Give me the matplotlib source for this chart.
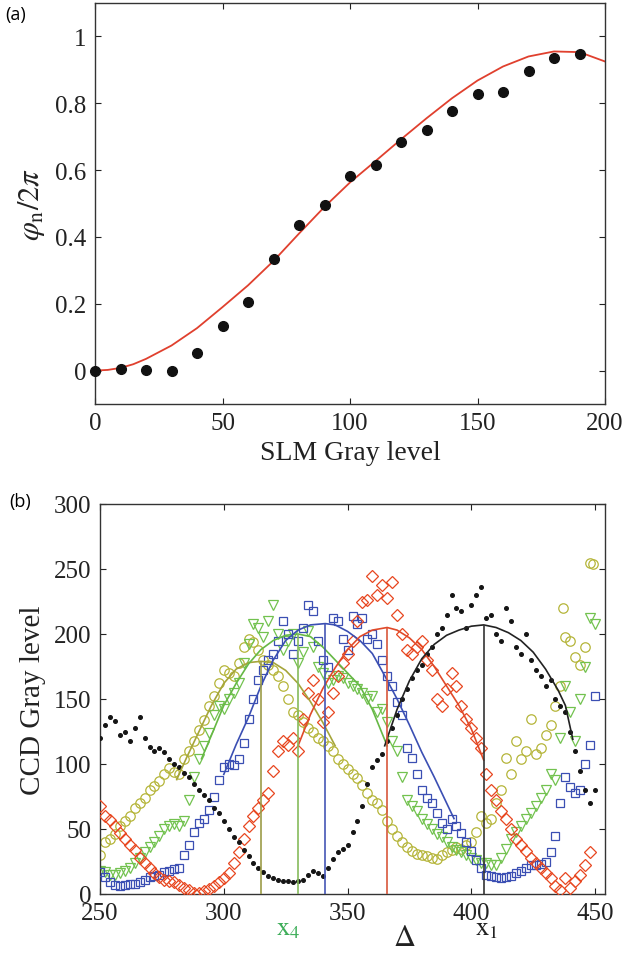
import numpy as np
import matplotlib
matplotlib.use("Agg")
import matplotlib.pyplot as plt

plt.rcParams['font.family'] = ['Liberation Serif', 'DejaVu Serif']
plt.rcParams['mathtext.fontset'] = 'stix'

# ---------------- Panel (a) data ----------------
a_gray = [0, 10, 20, 30, 40, 50, 60, 70, 80, 90, 100, 110, 120, 130, 140, 150, 160, 170, 180, 190]
a_phase = [0.0, 0.006, 0.002, 0.0, 0.053, 0.133, 0.206, 0.333, 0.435, 0.495, 0.583, 0.615,
           0.683, 0.721, 0.778, 0.828, 0.834, 0.898, 0.936, 0.946]
a_fit_x = [0, 5, 10, 15, 20, 30, 40, 50, 60, 70, 80, 90, 100, 110, 120, 130, 140, 150, 160, 170, 180, 190, 200]
a_fit_y = [0.0, 0.002, 0.008, 0.019, 0.035, 0.075, 0.127, 0.19, 0.255, 0.328, 0.41, 0.49, 0.563, 0.627,
           0.692, 0.755, 0.815, 0.868, 0.91, 0.94, 0.955, 0.953, 0.925]

# ---------------- Panel (b) data (x from 250, step 2) ----------------
b_black = [120, 130, 136, 133, 122, 125, 118, 128, 136, 120, 113, 110, 112, 109, 104, 100, 98, 93,
           90, 85, 80, 76, 72, 66, 62, 56, 50, 44, 40, 34, 29, 24, 20, 17, 14, 12, 11, 10, 10, 9,
           10, 11, 15, 18, 16, 14, 20, 27, 32, 35, 38, 48, 56, 68, 85, 98, 103, 108, 118, 128, 138,
           150, 158, 166, 172, 176, 185, 190, 200, 205, 215, 230, 220, 218, 205, 222, 230, 236, 212,
           215, 200, 195, 220, 210, 190, 185, 200, 180, 172, 168, 160, 165, 150, 145, 140, 125, 110,
           95, 80, 70, 80]
b_red = [68, 60, 57, 52, 47, 42, 38, 34, 28, 24, 20, 16, 13, 11, 10, 9, 7, 5, 3, 1, 1, 2, 4, 6, 9,
         12, 16, 24, 32, 42, 52, 60, 66, 72, 78, 95, 110, 118, 115, 120, 110, 135, 155, 165, 150, 132,
         140, 155, 168, 178, 185, 195, 210, 225, 226, 245, 230, 238, 228, 240, 215, 200, 188, 185, 190,
         195, 180, 172, 150, 145, 158, 170, 160, 145, 135, 128, 120, 112, 92, 80, 72, 64, 58, 50, 42,
         38, 33, 28, 24, 20, 16, 12, 6, 3, 12, 5, 10, 15, 22, 32]
b_blue = [17, 13, 9, 7, 6, 7, 8, 8, 9, 11, 13, 14, 15, 17, 18, 19, 20, 30, 38, 48, 55, 58, 65, 75, 88,
          98, 100, 99, 104, 116, 135, 150, 165, 172, 180, 185, 195, 210, 200, 185, 195, 205, 222, 218,
          195, 180, 175, 212, 210, 196, 188, 214, 208, 212, 196, 200, 192, 180, 168, 160, 148, 138, 112,
          105, 92, 80, 74, 70, 62, 55, 50, 58, 52, 47, 40, 33, 26, 20, 15, 14, 13, 12, 13, 14, 16, 18,
          20, 22, 22, 23, 25, 32, 45, 70, 90, 82, 78, 80, 100, 115, 152]
b_green = [18, 17, 15, 15, 16, 18, 20, 24, 28, 32, 36, 40, 45, 50, 52, 54, 52, 56, 72, 90, 104, 114,
           124, 138, 145, 142, 150, 155, 162, 178, 192, 208, 205, 198, 210, 222, 200, 188, 195, 200,
           178, 186, 202, 190, 175, 170, 162, 165, 168, 166, 162, 160, 158, 155, 150, 152, 140, 142,
           132, 118, 110, 90, 72, 68, 64, 58, 54, 50, 46, 44, 40, 36, 34, 32, 30, 28, 26, 24, 24, 22,
           22, 28, 35, 42, 48, 52, 58, 62, 68, 74, 80, 92, 88, 120, 160, 140, 118, 150, 175, 212, 208]
b_olive = [30, 40, 42, 46, 52, 56, 60, 66, 70, 74, 80, 83, 87, 92, 97, 94, 92, 104, 110, 118, 126,
           134, 145, 152, 162, 172, 170, 168, 178, 190, 196, 194, 188, 180, 176, 172, 168, 160, 150,
           140, 138, 132, 128, 125, 120, 118, 114, 110, 104, 100, 96, 92, 89, 84, 78, 72, 70, 65, 56,
           50, 45, 40, 36, 33, 31, 30, 29, 28, 27, 30, 32, 34, 36, 35, 38, 40, 48, 60, 55, 58, 70, 80,
           105, 92, 118, 104, 110, 135, 108, 112, 122, 130, 145, 160, 198, 195, 182, 176, 190, 255]
b_olive_extra_x = [437, 449]
b_olive_extra_y = [220, 254]

# fitted curves
fit_olive_x = [281, 285, 290, 295, 300, 305, 310, 315, 320, 325, 330, 335, 340, 345]
fit_olive_y = [88, 105, 125, 145, 162, 173, 178, 179, 178, 172, 162, 148, 132, 114]
fit_green_x = [291, 295, 300, 305, 310, 315, 320, 325, 330, 335, 340, 345, 350, 355, 360, 366]
fit_green_y = [104, 122, 145, 162, 177, 188, 195, 199, 200, 198, 190, 180, 170, 160, 142, 114]
fit_blue_x = [300, 305, 310, 315, 320, 325, 330, 335, 341, 345, 350, 355, 360, 365, 370, 375, 380, 385, 390, 393]
fit_blue_y = [92, 115, 136, 160, 180, 195, 203, 207, 208, 207, 202, 195, 185, 168, 150, 130, 109, 90, 70, 58]
fit_red_x = [330, 335, 340, 345, 350, 355, 360, 366, 370, 375, 380, 385, 390, 395, 400, 405]
fit_red_y = [114, 138, 158, 174, 188, 198, 203, 205, 203, 197, 188, 175, 160, 145, 127, 103]
fit_black_x = [365, 370, 375, 380, 385, 390, 395, 400, 405, 410, 415, 420, 425, 430, 435, 438, 441]
fit_black_y = [114, 142, 164, 181, 192, 199, 203, 206, 207, 205, 201, 195, 186, 173, 157, 145, 119]

# centre positions (vertical lines) and their heights
peak_x = [315, 330, 341, 366, 405]
peak_y = [179, 200, 208, 205, 207]

C_OLIVE = '#b5b53a'
C_GREEN = '#72c24f'
C_BLUE = '#3b4fb3'
C_RED = '#e8461f'
C_BLACK = '#151515'
peak_colors = ['#9c9c48', '#86bb5c', '#4656b5', '#d8573c', '#333333']

fig = plt.figure(figsize=(6.41, 9.54), dpi=100)

# ---------------- Panel (a) ----------------
ax1 = fig.add_axes([95/641, 1-405/954, 510/641, 401/954])
ax1.plot(a_fit_x, a_fit_y, color='#e0402e', lw=1.3, zorder=2)
ax1.plot(a_gray, a_phase, 'o', color='#111111', ms=7, zorder=3, clip_on=False)
ax1.set_xlim(0, 200)
ax1.set_ylim(-0.1, 1.1)
ax1.set_xticks([0, 50, 100, 150, 200])
ax1.set_yticks([0, 0.2, 0.4, 0.6, 0.8, 1.0])
ax1.set_yticklabels(['0', '0.2', '0.4', '0.6', '0.8', '1'])
ax1.set_xlabel('SLM Gray level', fontsize=20, labelpad=4, color='#222222')
ax1.set_ylabel(r'$\varphi_{\rm n}/2\pi$', fontsize=22, labelpad=6, color='#222222')

# ---------------- Panel (b) ----------------
ax2 = fig.add_axes([100/641, 1-895/954, 505/641, 390/954])
xb = lambda arr: np.arange(250, 250 + 2*len(arr), 2)
mk = dict(linestyle='none', mfc='none', mew=0.9)
ax2.plot(xb(b_olive), b_olive, marker='o', ms=6.8, mec=C_OLIVE, zorder=2, **mk)
ax2.plot(b_olive_extra_x, b_olive_extra_y, marker='o', ms=6.8, mec=C_OLIVE, zorder=2, **mk)
ax2.plot(xb(b_green), b_green, marker='v', ms=7.2, mec=C_GREEN, zorder=2, **mk)
ax2.plot(xb(b_blue), b_blue, marker='s', ms=6.3, mec=C_BLUE, zorder=3, **mk)
ax2.plot(xb(b_red), b_red, marker='D', ms=5.8, mec=C_RED, zorder=4, **mk)
ax2.plot(xb(b_black), b_black, 'o', ms=2.6, color=C_BLACK, zorder=5)

ax2.plot(fit_olive_x, fit_olive_y, color='#a5a53a', lw=1.2, zorder=6)
ax2.plot(fit_green_x, fit_green_y, color='#66b845', lw=1.2, zorder=6)
ax2.plot(fit_blue_x, fit_blue_y, color=C_BLUE, lw=1.2, zorder=6)
ax2.plot(fit_red_x, fit_red_y, color='#e04a2a', lw=1.2, zorder=6)
ax2.plot(fit_black_x, fit_black_y, color='#222222', lw=1.2, zorder=6)
ax2.vlines(peak_x, 0, peak_y, colors=peak_colors, lw=1.2, zorder=6)

ax2.set_xlim(250, 454)
ax2.set_ylim(0, 300)
ax2.set_xticks([250, 300, 350, 400, 450])
ax2.set_yticks([0, 50, 100, 150, 200, 250, 300])
ax2.set_ylabel('CCD Gray level', fontsize=21, labelpad=6, color='#222222')

ax2.annotate(r'$\mathrm{x}_4$', xy=(326, 0), xycoords=('data', 'axes fraction'),
             xytext=(0, -25), textcoords='offset points', ha='center', va='center',
             fontsize=19, color='#3fae5a')
ax2.annotate(r'$\mathrm{x}_1$', xy=(406, 0), xycoords=('data', 'axes fraction'),
             xytext=(0, -25), textcoords='offset points', ha='center', va='center',
             fontsize=19, color='#222222')
ax2.annotate(r'$\Delta$', xy=(373, 0), xycoords=('data', 'axes fraction'),
             xytext=(0, -31), textcoords='offset points', ha='center', va='center',
             fontsize=22, color='#222222')

for ax in (ax1, ax2):
    ax.tick_params(direction='in', length=4.5, width=0.8, top=True, right=True,
                   labelsize=18, pad=6, colors='#222222')
    for s in ax.spines.values():
        s.set_linewidth(1.0)
        s.set_color('#333333')

fig.text(16/641, 1-15/954, '(a)', fontsize=13, family='Open Sans', ha='center', va='center')
fig.text(20/641, 1-502/954, '(b)', fontsize=13, family='Open Sans', ha='center', va='center')

fig.savefig('out.png', dpi=100)
